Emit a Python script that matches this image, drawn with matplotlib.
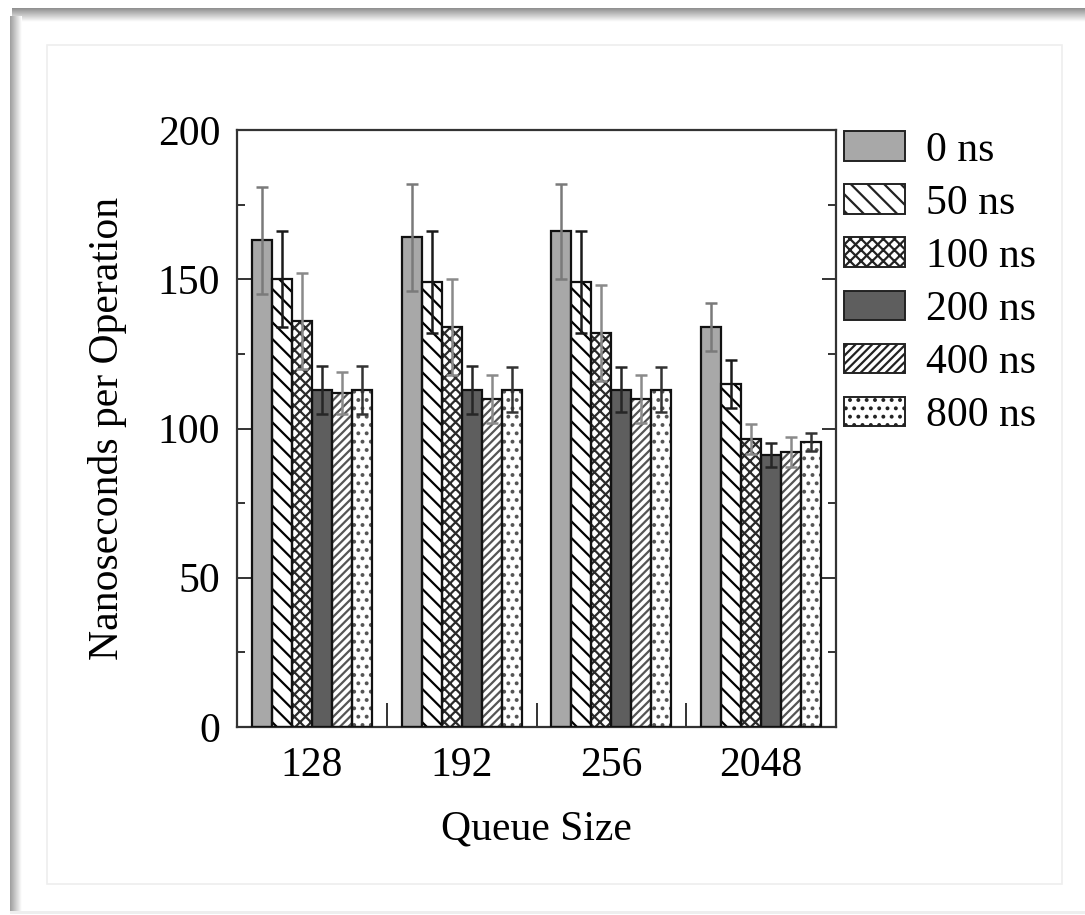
import numpy as np
import matplotlib
matplotlib.use("Agg")
import matplotlib.pyplot as plt
from matplotlib.patches import Rectangle, Patch

plt.rcParams['font.family'] = ['Liberation Serif', 'DejaVu Serif']
plt.rcParams['hatch.linewidth'] = 1.6

queue_sizes = ["128", "192", "256", "2048"]
delays = ["0 ns", "50 ns", "100 ns", "200 ns", "400 ns", "800 ns"]

ns_0 = [163, 164, 166, 134]
ns_50 = [150, 149, 149, 115]
ns_100 = [136, 134, 132, 96.5]
ns_200 = [113, 113, 113, 91]
ns_400 = [112, 110, 110, 92]
ns_800 = [113, 113, 113, 95.5]

err_0 = [18, 18, 16, 8]
err_50 = [16, 17, 17, 8]
err_100 = [16, 16, 16, 5]
err_200 = [8, 8, 7.5, 4]
err_400 = [7, 8, 8, 5]
err_800 = [8, 7.5, 7.5, 3]

values = [ns_0, ns_50, ns_100, ns_200, ns_400, ns_800]
errors = [err_0, err_50, err_100, err_200, err_400, err_800]

# fill colour, hatch, hatch colour, error-bar colour
styles = [
    ("#a8a8a8", "", "black", "#7a7a7a"),
    ("white", "\\\\", "black", "#1a1a1a"),
    ("white", "xxx", "#2a2a2a", "#8a8a8a"),
    ("#5e5e5e", "", "black", "#262626"),
    ("white", "////", "#555555", "#8a8a8a"),
    ("white", "..", "#555555", "#333333"),
]

W, H = 1085, 915
fig = plt.figure(figsize=(W / 100, H / 100), dpi=100)
fig.patch.set_facecolor("white")

# window chrome drawn behind the chart
bg = fig.add_axes([0, 0, 1, 1], zorder=-10)
bg.axis("off")
top_grad = np.linspace(0.56, 1.0, 32)[:, None] * np.ones((1, 10))
bg.imshow(top_grad, cmap="gray", vmin=0, vmax=1, extent=(12, W, 22, 8),
          aspect="auto", interpolation="bilinear")
left_grad = np.linspace(0.62, 1.0, 32)[None, :] * np.ones((10, 1))
bg.imshow(left_grad, cmap="gray", vmin=0, vmax=1, extent=(10, 22, 912, 16),
          aspect="auto", interpolation="bilinear")
bg.add_patch(Rectangle((10, 911), W - 10, 3, facecolor="#eeeeee", edgecolor="none"))
bg.add_patch(Rectangle((47, 45), 1062 - 47, 884 - 45, facecolor="none",
                       edgecolor="#eeeeee", linewidth=1.2))
bg.set_xlim(0, W)
bg.set_ylim(H, 0)

ax = fig.add_axes([237 / W, 1 - 727 / H, (836 - 237) / W, (727 - 130) / H])

x = np.arange(len(queue_sizes))
n = len(delays)
group_w = 0.8
bw = group_w / n

handles = []
for i, (vals, errs, (fc, hatch, hc, ec)) in enumerate(zip(values, errors, styles)):
    pos = x - group_w / 2 + bw * (i + 0.5)
    ax.bar(pos, vals, bw, color=fc, hatch=hatch, edgecolor=hc, linewidth=0, zorder=2)
    ax.bar(pos, vals, bw, color="none", edgecolor="#111111", linewidth=1.6, zorder=3)
    ax.errorbar(pos, vals, yerr=errs, fmt="none", ecolor=ec, elinewidth=1.8,
                capsize=4.6, capthick=1.8, zorder=4)
    handles.append(Patch(facecolor=fc, hatch=hatch, edgecolor="#222222",
                         linewidth=1.4, label=delays[i]))

ax.set_xlim(-0.5, len(queue_sizes) - 0.5)
ax.set_ylim(0, 200)
ax.set_xticks(x)
ax.set_xticklabels(queue_sizes)
ax.set_xticks(x[:-1] + 0.5, minor=True)
ax.set_yticks([0, 50, 100, 150, 200])
ax.set_yticks([25, 75, 125, 175], minor=True)

ax.tick_params(axis="both", which="both", direction="in", labelsize=30,
               colors="#333333", labelcolor="black")
ax.tick_params(axis="y", which="both", left=True, right=True)
ax.tick_params(axis="y", which="major", length=10, width=1.4, pad=12)
ax.tick_params(axis="y", which="minor", length=6, width=1.4)
ax.tick_params(axis="x", which="major", length=0, pad=14)
ax.tick_params(axis="x", which="minor", length=17, width=1.4)

for s in ax.spines.values():
    s.set_linewidth(1.6)
    s.set_color("#333333")

ax.set_ylabel("Nanoseconds per Operation", fontsize=30, labelpad=22)
ax.set_xlabel("Queue Size", fontsize=30, labelpad=18)

ax.legend(handles=handles, loc="upper left", bbox_to_anchor=(1.0, 1.012),
          frameon=False, fontsize=30, handlelength=1.46, handleheight=0.72,
          handletextpad=0.5, labelspacing=0.35, borderaxespad=0.0,
          borderpad=0.2)

fig.savefig("out.png", dpi=100, facecolor="white")
